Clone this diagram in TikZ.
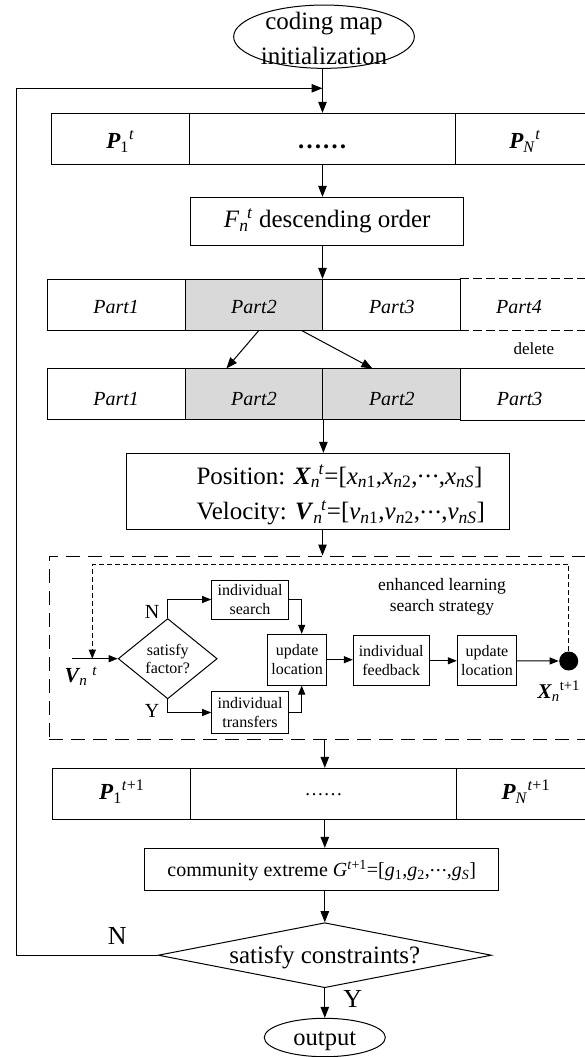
\documentclass[tikz,border=0pt]{standalone}
\usepackage{fontspec}
\setmainfont{Liberation Serif}
\usetikzlibrary{arrows.meta,shapes.geometric}
\definecolor{cellgray}{RGB}{217,217,217}
\newcommand{\fsz}[2]{\fontsize{#1}{#2}\selectfont}
\newcommand{\bfit}[1]{\textbf{\textit{#1}}}
\newcommand{\supsub}[2]{\textsubscript{#2}\kern-0.06em\textsuperscript{#1}}
\newcommand{\mdots}{\raisebox{0.25em}{.\kern0.05em.\kern0.05em.}}
\begin{document}
\begin{tikzpicture}[x=1pt,y=-1pt,line width=1pt,
  arr/.style={-{Triangle[length=11pt,width=8.5pt]}},
  sarr/.style={-{Triangle[length=9pt,width=7pt]}},
  cell/.style={draw,inner sep=0pt,minimum height=50.7pt,text depth=0pt},
  box/.style={draw,inner sep=0pt,align=center},
  smallbox/.style={box,font=\fsz{16}{19}},
  partcell/.style={cell,minimum width=137.8pt,font=\fsz{20}{20}\itshape},
  longdash/.style={dash pattern=on 14pt off 8pt},
  shortdash/.style={dash pattern=on 5pt off 3pt},
  partdash/.style={dash pattern=on 9pt off 4pt}]
\useasboundingbox (0,0) rectangle (584,1057);

% guide columns for the main flow
\coordinate (colA) at (322.5,0);
\coordinate (colB) at (324.8,0);
\coordinate (fbL) at (16.4,0);
\coordinate (fbTop) at (322.5,88.3);

% start
\node[draw,ellipse,inner sep=0pt,minimum width=180.7pt,minimum height=63.3pt] (init) at (324,36.7) {};
\node[anchor=base,font=\fsz{25}{25}] (initA) at (324,30) {coding map};
\node[anchor=base,font=\fsz{25}{25}] (initB) at (324,65) {initialization};

% population at t
\node[cell,minimum width=137.8pt,text height=19.2pt,font=\fsz{23}{23}] (p1) at (120.3,138.7) {\bfit{P}\textsubscript{1}\textsuperscript{\textit{t}}};
\node[cell,minimum width=265.9pt,text height=19.2pt,font=\fsz{25}{25}\bfseries] (pdots) at (322.2,138.7) {……};
\node[cell,minimum width=140pt,text height=19.2pt,font=\fsz{23}{23}] (pN) at (525,138.7) {\bfit{P}\textsubscript{\textit{N}}\textsuperscript{\textit{t}}};

% sorting
\node[box,minimum width=273pt,minimum height=48.4pt,text height=11.6pt,text depth=0pt,font=\fsz{25}{25}] (fdesc) at (327.2,221.5) {\textit{F}\supsub{\textit{t}}{\textit{n}} descending order};

% partition
\node[partcell,text height=17.2pt] (a1) at (116.2,304.7) {Part1};
\node[partcell,text height=17.2pt,fill=cellgray] (a2) at (254,304.7) {Part2};
\node[partcell,text height=17.2pt] (a3) at (391.8,304.7) {Part3};
\node[partcell,text height=17.2pt,draw=none,minimum width=116.6pt] (a4) at (519,304.7) {Part4};
\draw[partdash] (a4.north west) -- ++(125,0) (a4.south west) -- ++(125,0);
\node[font=\fsz{17}{17}] (del) at (533.8,348.3) {delete};

% partition after duplication
\node[partcell,text height=21.4pt] (b1) at (116.2,394.3) {Part1};
\node[partcell,text height=21.4pt,fill=cellgray] (b2) at (254,394.3) {Part2};
\node[partcell,text height=21.4pt,fill=cellgray] (b3) at (391.8,394.3) {Part2};
\node[partcell,text height=21.4pt,draw=none,minimum width=117.8pt] (b4) at (519.6,394.3) {Part3};
\draw (b4.north west) -- ++(125,0) (b4.south west) -- ++(125,0);

% position and velocity
\node[draw,inner sep=0pt,minimum width=383pt,minimum height=76pt] (pv) at (318,491.3) {};
\node[anchor=base west,inner sep=0pt,font=\fsz{25}{25}] (pos) at (196,484) {Position: \bfit{X}\supsub{\textit{t}}{\textit{n}}=[\textit{x}\textsubscript{\textit{n}1},\textit{x}\textsubscript{\textit{n}2},\mdots,\textit{x}\textsubscript{\textit{nS}}]};
\node[anchor=base west,inner sep=0pt,font=\fsz{25}{25}] (vel) at (196,519.3) {Velocity: \bfit{V}\supsub{\textit{t}}{\textit{n}}=[\textit{v}\textsubscript{\textit{n}1},\textit{v}\textsubscript{\textit{n}2},\mdots,\textit{v}\textsubscript{\textit{nS}}]};

% enhanced learning search strategy
\node[draw,longdash,inner sep=0pt,minimum width=551pt,minimum height=183pt] (grp) at (324.5,647.5) {};
\node[draw,diamond,aspect=1.25,inner sep=0pt,minimum width=99pt,minimum height=80.3pt,align=center,font=\fsz{16}{18}] (fdec) at (167.7,658.7) {satisfy\\factor?};
\node[smallbox,minimum width=76.6pt,minimum height=39pt] (srch) at (250,599.5) {individual\\search};
\node[smallbox,minimum width=76.6pt,minimum height=41.6pt] (trans) at (250,712.5) {individual\\transfers};
\node[smallbox,minimum width=59pt,minimum height=50.7pt] (upd1) at (297.2,659.7) {update\\location};
\node[smallbox,minimum width=75.7pt,minimum height=50.3pt] (fback) at (391.2,660.8) {individual\\feedback};
\node[smallbox,minimum width=59.4pt,minimum height=50.3pt] (upd2) at (487,660.8) {update\\location};
\node[circle,fill,inner sep=0pt,minimum size=19pt] (dot) at (568.7,661) {};
\node[align=center,font=\fsz{17.5}{21.7}] (enh) at (442,596.7) {enhanced learning\\search strategy};
\node[anchor=base west,inner sep=0pt,font=\fsz{21}{21}] (xlab) at (537,698.3) {\bfit{X}\textsubscript{\textit{n}}\textsuperscript{t+1}};
\node[anchor=base west,inner sep=0pt,font=\fsz{21.5}{21.5}] (vlab) at (64,682.7) {\bfit{V}\kern-1pt\textsubscript{\textit{n}}\kern5pt\textsuperscript{\textit{t}}};
\node[font=\fsz{20}{20}] (nin) at (152.2,611.7) {N};
\node[font=\fsz{20}{20}] (yin) at (152.2,710.8) {Y};
\coordinate (vin) at (71.7,658.7);
\coordinate (vjoin) at (92.3,658.7);
\coordinate (loopc) at (92.3,564);

% population at t+1
\node[cell,minimum width=137.8pt,minimum height=51pt,text height=11.4pt,font=\fsz{23}{23}] (q1) at (121.8,793.8) {\bfit{P}\textsubscript{1}\textsuperscript{\textit{t}+1}};
\node[cell,minimum width=265.9pt,minimum height=51pt,text height=2.4pt,font=\fsz{19}{19}] (q2) at (323.65,793.8) {……};
\node[cell,minimum width=138.4pt,minimum height=51pt,text height=11.4pt,font=\fsz{23}{23}] (q3) at (525.8,793.8) {\bfit{P}\textsubscript{\textit{N}}\textsuperscript{\textit{t}+1}};

% community extreme and termination
\node[box,minimum width=354.5pt,minimum height=42.4pt,text height=14.4pt,text depth=0pt,font=\fsz{20}{20}] (comm) at (321.7,869.5) {community extreme \textit{G}\textsuperscript{\textit{t}+1}=[\textit{g}\textsubscript{1},\textit{g}\textsubscript{2},\mdots,\textit{g}\textsubscript{\textit{S}}]};
\node[draw,diamond,aspect=5,inner sep=0pt,minimum width=333.3pt,minimum height=65pt,text height=16.2pt,text depth=0pt,font=\fsz{25}{25}] (cons) at (324.8,955.2) {satisfy constraints?};
\node[font=\fsz{26}{26}] (nout) at (117.3,936) {N};
\node[font=\fsz{26}{26}] (yout) at (352.8,999) {Y};
\node[draw,ellipse,inner sep=0pt,minimum width=121.1pt,minimum height=38.4pt,text height=16.4pt,text depth=0pt,font=\fsz{24.5}{24.5}] (out) at (324.8,1037.5) {output};

% main flow
\draw[arr] (init.south -| colA) -- (pdots.north -| colA);
\draw[arr] (cons.west) -- (cons.west -| fbL) |- (fbTop);
\draw[arr] (pdots.south -| colA) -- (fdesc.north -| colA);
\draw[arr] (fdesc.south -| colA) -- (a2.north east -| colA);
\draw[arr] ([xshift=4.8pt]a2.south) -- ([xshift=-27.6pt]b2.north);
\draw[arr] ([xshift=47.7pt]a2.south) -- ([xshift=-19.4pt]b3.north);
\draw[arr] (b2.south east) -- (b2.south east |- pv.north);
\draw[arr] (pv.south -| colA) -- (grp.north -| colA);
\draw[arr] (grp.south -| colB) -- (q2.north -| colB);
\draw[arr] (q2.south -| colB) -- (comm.north -| colB);
\draw[arr] (comm.south -| colB) -- (cons.north);
\draw[arr] (cons.south) -- (out.north);

% inner flow
\draw[sarr] (vin) -- (fdec.west);
\draw[shortdash,line width=0.9pt,sarr] (dot.north) |- (loopc) -- (vjoin);
\draw[sarr] (fdec.north) |- (srch.west);
\draw[sarr] (fdec.south) |- (trans.west);
\draw[sarr] (srch.east) -| ([xshift=4.5pt]upd1.north);
\draw[sarr] (trans.east) -| ([xshift=4.5pt]upd1.south);
\draw[sarr] (upd1.east) -- (upd1.east -| fback.west);
\draw[sarr] (fback.east) -- (upd2.west);
\draw[sarr] (upd2.east) -- (dot.west);
\end{tikzpicture}
\end{document}
